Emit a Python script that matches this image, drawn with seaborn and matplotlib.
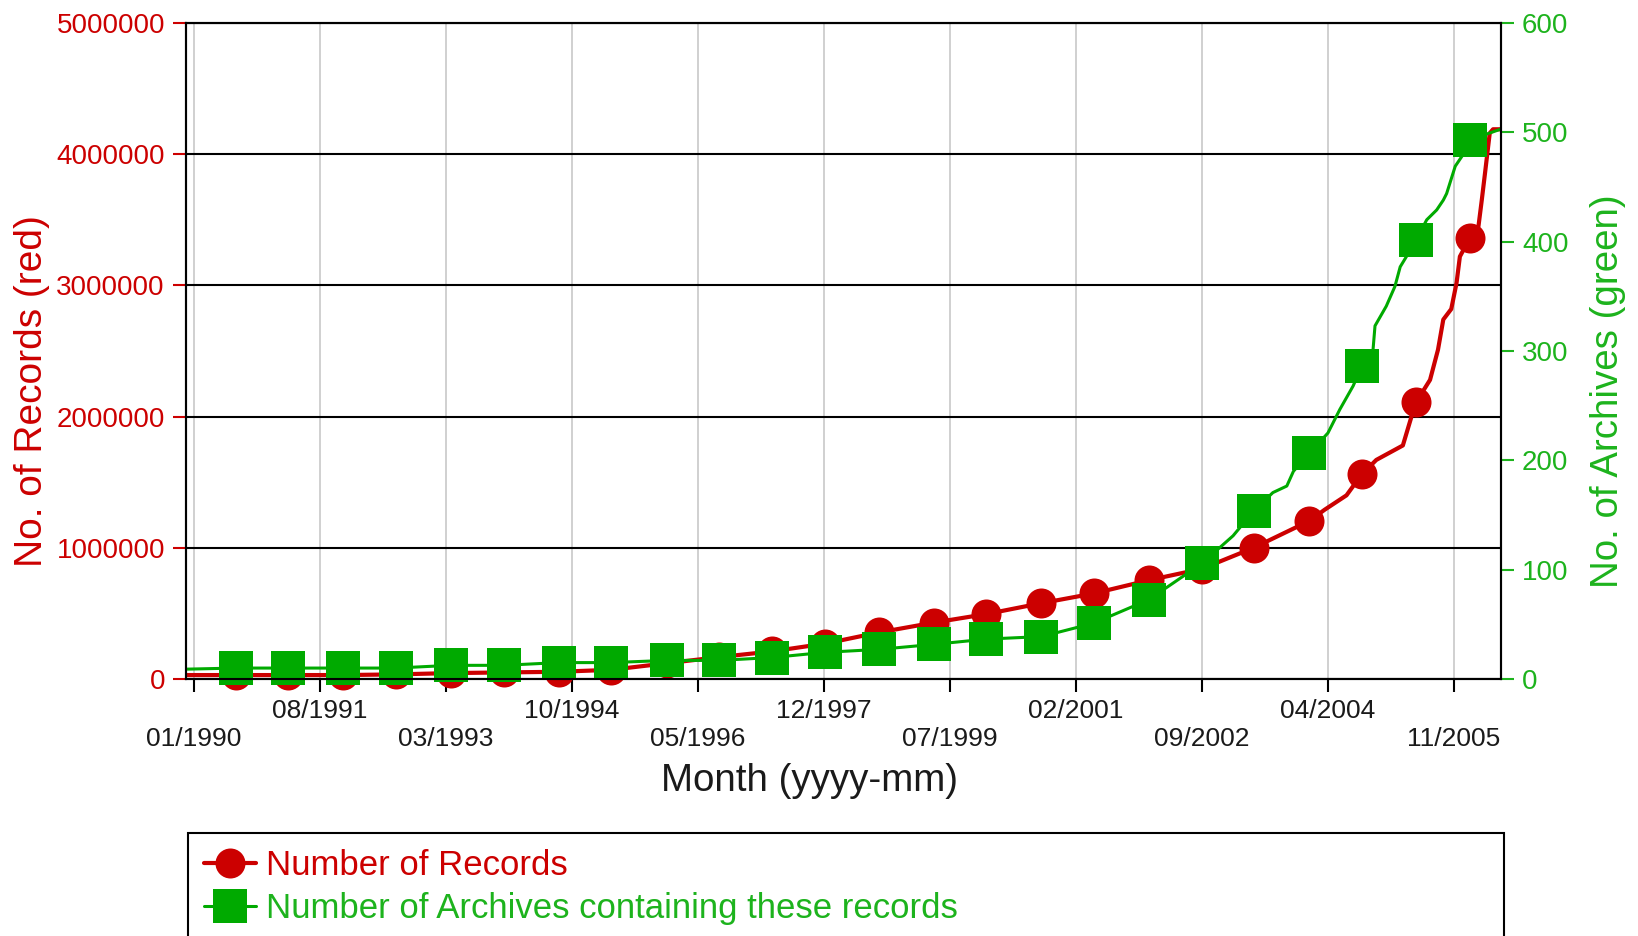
import pandas as pd
import seaborn as sns
import matplotlib.pyplot as plt
from matplotlib.lines import Line2D
from matplotlib.patches import Rectangle

# 颜色
RED = '#cc0000'
GREEN = '#00aa00'
GREEN_TXT = '#1db31d'

# x 轴: 以 1990-01 为 0 的月份
tick_months = [0, 19, 38, 57, 76, 95, 114, 133, 152, 171, 190]
tick_labels = ['01/1990', '08/1991', '03/1993', '10/1994', '05/1996', '12/1997',
               '07/1999', '02/2001', '09/2002', '04/2004', '11/2005']

# 标记点 (红圆 / 绿方)
marker_month = [6.3, 14.2, 22.5, 30.4, 38.7, 46.7, 55.0, 62.9, 71.3, 79.2, 87.1, 95.2,
                103.3, 111.6, 119.5, 127.8, 135.7, 144.0, 152.0, 159.8, 168.2, 176.1, 184.3, 192.4]
records = [30000, 30000, 30000, 35000, 45000, 50000, 55000, 70000, 120000, 167000, 210000, 270000,
           355000, 430000, 495000, 578000, 652000, 753000, 840000, 1000000, 1205000, 1560000, 2110000, 3360000]
archives = [10, 10, 10, 10, 12.5, 12.5, 15, 15, 17, 17, 19.6, 24.4,
            27.1, 31.7, 36.5, 38.8, 51.1, 72.6, 105.7, 153.7, 206.4, 286, 401.8, 493]

# 曲线上标记之间读到的点
rec_extra_month = [-1.2, 170.5, 173.8, 178.3, 182.3, 183.6, 186.4, 187.6, 188.4, 189.6, 190.4,
                   190.9, 193.7, 194.2, 194.7, 195.4, 195.9, 197.1]
rec_extra = [30000, 1290000, 1400000, 1670000, 1780000, 2000000, 2280000, 2510000, 2740000, 2820000,
             3020000, 3220000, 3450000, 3650000, 3860000, 4160000, 4190000, 4190000]
arc_extra_month = [-1.2, 156.7, 162.7, 164.8, 165.8, 171.0, 172.8, 174.8, 177.8, 178.1, 179.8,
                   181.1, 181.9, 182.9, 185.9, 187.4, 188.4, 188.9, 190.2, 191.2, 197.1]
arc_extra = [9, 131, 170.5, 176.5, 190, 225, 246.6, 268, 301, 323, 341,
             359, 377, 387, 420, 429, 438, 444, 469, 478, 503]

rec_y_ticks = [0, 1000000, 2000000, 3000000, 4000000, 5000000]
arc_y_ticks = [0, 100, 200, 300, 400, 500, 600]

sns.set_theme(style='white')
plt.rcParams['font.family'] = ['Liberation Sans', 'DejaVu Sans']

df_mark = pd.DataFrame({'month': marker_month, 'records': records, 'archives': archives})
df_rec = pd.concat([pd.DataFrame({'month': marker_month, 'v': records}),
                    pd.DataFrame({'month': rec_extra_month, 'v': rec_extra})]).sort_values('month')
df_arc = pd.concat([pd.DataFrame({'month': marker_month, 'v': archives}),
                    pd.DataFrame({'month': arc_extra_month, 'v': arc_extra})]).sort_values('month')

fig = plt.figure(figsize=(16.38, 9.36), dpi=100)
ax = fig.add_axes([186 / 1638, 1 - 679 / 936, 1315 / 1638, 656 / 936])
ax2 = ax.twinx()

sns.lineplot(data=df_rec, x='month', y='v', ax=ax, color=RED, linewidth=3.0,
             estimator=None, zorder=2.1)
sns.scatterplot(data=df_mark, x='month', y='records', ax=ax, color=RED, marker='o',
                s=467, linewidth=0, zorder=2.2, clip_on=False)
sns.lineplot(data=df_arc, x='month', y='v', ax=ax2, color=GREEN, linewidth=2.2,
             estimator=None, zorder=2.1)
sns.scatterplot(data=df_mark, x='month', y='archives', ax=ax2, color=GREEN, marker='s',
                s=566, linewidth=0, zorder=2.2, clip_on=False)

ax.set_xlim(-1.2, 197.1)
ax.set_ylim(0, 5000000)
ax2.set_ylim(0, 600)
ax.set_xticks(tick_months)
ax.set_xticklabels(tick_labels)
ax.set_yticks(rec_y_ticks)
ax.set_yticklabels([str(v) for v in rec_y_ticks])
ax2.set_yticks(arc_y_ticks)
ax2.set_yticklabels([str(v) for v in arc_y_ticks])

ax.set_axisbelow(True)
ax.grid(axis='y', color='black', linewidth=1.5)
ax.grid(axis='x', color='#c8c8c8', linewidth=1.2)
ax2.grid(False)

for a in (ax, ax2):
    for sp in a.spines.values():
        sp.set_color('black')
        sp.set_linewidth(1.5)

ax.tick_params(axis='x', bottom=True, direction='out', length=9.4, width=1.5, color='black',
               labelsize=19, labelcolor='#1a1a1a', pad=5)
ax.tick_params(axis='y', left=True, direction='out', length=9.4, width=1.5, color=RED,
               labelsize=20, labelcolor=RED, pad=5.8)
ax2.tick_params(axis='y', right=True, direction='out', length=9.4, width=1.5, color=GREEN_TXT,
                labelsize=20, labelcolor=GREEN_TXT, pad=5.8)
# 交错的 x 轴标签
for i, t in enumerate(ax.xaxis.get_major_ticks()):
    if i % 2 == 0:
        t.set_pad(24.8)

ax.set_xlabel('Month (yyyy-mm)', fontsize=27.7, color='#1a1a1a')
ax.xaxis.set_label_coords(0.4745, -0.1288)
ax.set_ylabel('No. of Records (red)', fontsize=28, color=RED)
ax.yaxis.set_label_coords(-0.1035, 0.4383)
ax2.set_ylabel('No. of Archives (green)', fontsize=27.7, color=GREEN_TXT)
ax2.yaxis.set_label_coords(1.0677, 0.4383)

# 图例
box = Rectangle((188 / 1638, -0.03), 1316 / 1638, (960 - 833) / 936 + 0.004, fill=False,
                edgecolor='black', linewidth=1.5, transform=fig.transFigure, clip_on=False)
fig.add_artist(box)
handles = [Line2D([], [], color=RED, lw=3.0, marker='o', markersize=21.6, markeredgewidth=0),
           Line2D([], [], color=GREEN, lw=2.2, marker='s', markersize=23.8, markeredgewidth=0)]
fig.legend(handles, ['Number of Records', 'Number of Archives containing these records'],
           loc='upper left', bbox_to_anchor=(204 / 1638, 1 - 849 / 936), frameon=False,
           fontsize=25, handlelength=1.5, handletextpad=0.3, labelspacing=0.3,
           borderpad=0, borderaxespad=0, labelcolor=[RED, GREEN_TXT])

plt.savefig('out.png', dpi=100)
